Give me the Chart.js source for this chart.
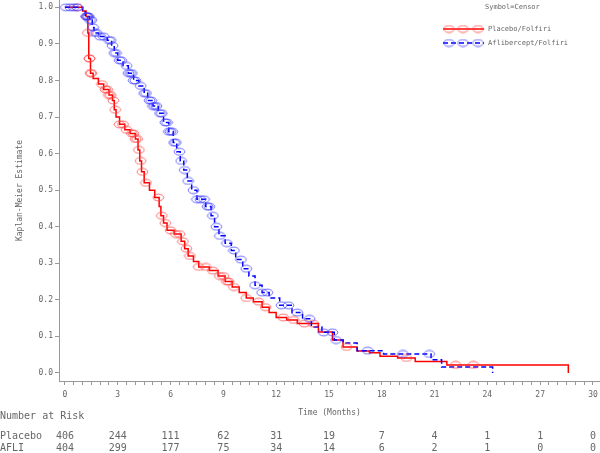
<!DOCTYPE html>
<html>
<head>
<meta charset="utf-8">
<script src="https://cdn.jsdelivr.net/npm/chart.js@4.4.0/dist/chart.umd.min.js"></script>
<style>
html, body { margin: 0; padding: 0; background: #fff; }
</style>
</head>
<body>
<canvas id="km" width="600" height="453"></canvas>
<script>
// Placebo/Folfiri : event times (months) and survival estimate after each step
var placeboT = [0, 1.0, 1.2, 1.3, 1.35, 1.45, 1.6, 1.9, 2.2, 2.5, 2.7, 2.8, 2.9, 3.1, 3.4, 3.7, 4.0, 4.15, 4.25, 4.35,
    4.5, 4.8, 5.1, 5.35, 5.45, 5.6, 5.8, 6.2, 6.6, 6.8, 7.0, 7.3, 7.6, 8.2, 8.7, 9.1, 9.5, 9.9, 10.3, 10.7,
    11.2, 11.6, 12.0, 12.6, 13.2, 14.4, 15.2, 15.8, 16.6, 17.3, 17.9, 18.9, 19.9, 21.7, 28.6];
var placeboS = [1.0, 0.99, 0.975, 0.93, 0.86, 0.82, 0.805, 0.79, 0.775, 0.76, 0.745, 0.72, 0.70, 0.68, 0.665, 0.655, 0.64, 0.61, 0.58, 0.55,
    0.52, 0.50, 0.48, 0.455, 0.43, 0.41, 0.39, 0.38, 0.36, 0.34, 0.32, 0.305, 0.29, 0.28, 0.265, 0.25, 0.235, 0.22, 0.205, 0.195,
    0.18, 0.165, 0.152, 0.145, 0.135, 0.112, 0.09, 0.071, 0.06, 0.055, 0.046, 0.041, 0.031, 0.022, 0.0];
// censored times
var placeboCens = [0.7, 1.25, 1.3, 1.38, 1.4, 1.45, 1.5, 2.1, 2.3, 2.4, 2.5, 2.6, 2.75, 2.85, 3.1, 3.3, 3.5, 3.8, 3.9, 4.0,
    4.1, 4.2, 4.3, 4.4, 4.6, 5.3, 5.5, 5.7, 6.0, 6.3, 6.5, 6.7, 6.9, 7.1, 7.6, 8.0, 8.4, 8.8, 9.0, 9.2,
    9.3, 9.6, 10.3, 11.0, 11.4, 12.4, 13.0, 13.6, 14.1, 16.0, 19.4, 22.2, 23.2];

// Aflibercept/Folfiri
var afliT = [0, 1.0, 1.15, 1.4, 1.55, 1.65, 1.9, 2.4, 2.65, 2.8, 3.0, 3.3, 3.6, 3.9, 4.2, 4.5, 4.7, 5.0, 5.3, 5.6,
    5.9, 6.15, 6.35, 6.55, 6.75, 6.95, 7.2, 7.5, 8.0, 8.3, 8.5, 8.75, 9.1, 9.45, 9.7, 10.1, 10.45, 10.8, 11.2, 11.6,
    12.2, 12.9, 13.5, 14.0, 14.6, 15.3, 15.8, 16.6, 18.1, 20.8, 21.4, 24.3];
var afliS = [1.0, 0.99, 0.975, 0.965, 0.945, 0.93, 0.92, 0.91, 0.895, 0.875, 0.855, 0.84, 0.82, 0.80, 0.785, 0.765, 0.745, 0.73, 0.71, 0.685,
    0.66, 0.63, 0.605, 0.58, 0.555, 0.525, 0.50, 0.475, 0.455, 0.43, 0.40, 0.375, 0.355, 0.335, 0.31, 0.285, 0.265, 0.24, 0.22, 0.205,
    0.185, 0.165, 0.148, 0.126, 0.111, 0.09, 0.082, 0.061, 0.052, 0.036, 0.016, 0.0];
var afliCens = [0.05, 0.3, 0.5, 0.7, 1.2, 1.25, 1.3, 1.35, 1.42, 1.5, 1.6, 1.7, 1.8, 2.0, 2.2, 2.5, 2.6, 2.7, 2.8, 2.9,
    3.1, 3.2, 3.5, 3.6, 3.7, 3.8, 3.9, 4.0, 4.3, 4.5, 4.6, 4.8, 4.9, 5.0, 5.1, 5.2, 5.4, 5.5, 5.7, 5.8,
    5.9, 6.0, 6.1, 6.2, 6.3, 6.5, 6.6, 6.8, 7.0, 7.3, 7.5, 7.7, 7.9, 8.1, 8.2, 8.4, 8.6, 8.8, 9.2, 9.6,
    10.0, 10.3, 10.8, 11.2, 11.5, 12.3, 12.7, 13.2, 13.9, 14.7, 15.2, 15.4, 17.2, 19.2, 20.7];

var xTicks = [0, 3, 6, 9, 12, 15, 18, 21, 24, 27, 30];
var yTicks = [0.0, 0.1, 0.2, 0.3, 0.4, 0.5, 0.6, 0.7, 0.8, 0.9, 1.0];

// number at risk
var riskTimes = [0, 3, 6, 9, 12, 15, 18, 21, 24, 27, 30];
var riskPlacebo = [406, 244, 111, 62, 31, 19, 7, 4, 1, 1, 0];
var riskAfli = [404, 299, 177, 75, 34, 14, 6, 2, 1, 0, 0];

var FONT = '"DejaVu Sans Mono", "Liberation Mono", monospace';
var TXT = '#666';

function curve(T, S) {
    var pts = [];
    for (var i = 0; i < T.length; i++) pts.push({ x: T[i], y: S[i] });
    return pts;
}
// a censor mark sits on the curve at its time
function censPoints(cens, T, S) {
    var pts = [];
    for (var c = 0; c < cens.length; c++) {
        var v = S[0];
        for (var i = 0; i < T.length; i++) { if (T[i] <= cens[c]) v = S[i]; }
        pts.push({ x: cens[c], y: v });
    }
    return pts;
}
function ellipseMark(color) {
    var cv = document.createElement('canvas');
    cv.width = 13; cv.height = 9;
    var c = cv.getContext('2d');
    c.strokeStyle = color;
    c.lineWidth = 1;
    c.beginPath();
    c.ellipse(6.5, 4.5, 5.3, 3.4, 0, 0, Math.PI * 2);
    c.stroke();
    return cv;
}
var redMark = ellipseMark('rgba(255,60,60,0.75)');
var blueMark = ellipseMark('rgba(60,60,255,0.75)');

var extras = {
    id: 'extras',
    afterDraw: function (chart) {
        var ctx = chart.ctx;
        var xs = chart.scales.x;
        ctx.save();
        ctx.fillStyle = TXT;
        ctx.textBaseline = 'middle';
        // legend
        ctx.font = '7px ' + FONT;
        ctx.textAlign = 'left';
        ctx.fillText('Symbol=Censor', 485, 7);
        ctx.fillText('Placebo/Folfiri', 488, 29);
        ctx.fillText('Aflibercept/Folfiri', 488, 43);
        ctx.lineWidth = 1.5;
        ctx.strokeStyle = '#ff0000';
        ctx.beginPath(); ctx.moveTo(443, 29); ctx.lineTo(484, 29); ctx.stroke();
        ctx.strokeStyle = '#0000ff';
        ctx.setLineDash([5, 3]);
        ctx.beginPath(); ctx.moveTo(443, 43); ctx.lineTo(484, 43); ctx.stroke();
        ctx.setLineDash([]);
        [449, 463, 478].forEach(function (mx) {
            ctx.drawImage(redMark, mx - 6.5, 29 - 4.5);
            ctx.drawImage(blueMark, mx - 6.5, 43 - 4.5);
        });
        // number at risk table
        ctx.font = '10px ' + FONT;
        ctx.fillText('Number at Risk', 0, 416);
        ctx.fillText('Placebo', 0, 436);
        ctx.fillText('AFLI', 0, 448);
        ctx.textAlign = 'center';
        for (var i = 0; i < riskTimes.length; i++) {
            var px = xs.getPixelForValue(riskTimes[i]);
            ctx.fillText(String(riskPlacebo[i]), px, 436);
            ctx.fillText(String(riskAfli[i]), px, 448);
        }
        ctx.restore();
    }
};

var ctx = document.getElementById('km');
var chart = new Chart(ctx, {
    type: 'line',
    data: {
        datasets: [{
            label: 'Placebo/Folfiri',
            data: curve(placeboT, placeboS),
            borderColor: '#ff0000',
            borderWidth: 1.5,
            stepped: true,
            pointRadius: 0,
            fill: false,
            order: 4
        }, {
            label: 'Aflibercept/Folfiri',
            data: curve(afliT, afliS),
            borderColor: '#0000ff',
            borderWidth: 1.5,
            borderDash: [5, 3],
            stepped: true,
            pointRadius: 0,
            fill: false,
            order: 3
        }, {
            label: 'Placebo censored',
            data: censPoints(placeboCens, placeboT, placeboS),
            showLine: false,
            pointStyle: redMark,
            pointRadius: 6,
            order: 2
        }, {
            label: 'Aflibercept censored',
            data: censPoints(afliCens, afliT, afliS),
            showLine: false,
            pointStyle: blueMark,
            pointRadius: 6,
            order: 1
        }]
    },
    options: {
        responsive: false,
        animation: false,
        devicePixelRatio: 1,
        layout: { padding: 0, autoPadding: false },
        plugins: { legend: { display: false }, tooltip: { enabled: false } },
        scales: {
            x: {
                type: 'linear',
                min: -0.34,
                max: 30.4,
                afterBuildTicks: function (s) {
                    var t = [];
                    for (var k = 0; k <= 60; k++) t.push({ value: k * 0.5 });
                    s.ticks = t;
                },
                afterFit: function (s) { s.height = 72; s.paddingLeft = 0; s.paddingRight = 0; },
                ticks: {
                    autoSkip: false,
                    maxRotation: 0,
                    padding: 5,
                    color: TXT,
                    font: { family: FONT, size: 8 },
                    callback: function (v) { return xTicks.indexOf(v) >= 0 ? String(v) : ''; }
                },
                grid: { drawOnChartArea: false, tickLength: 4, color: '#999' },
                border: { color: '#999', width: 1 },
                title: {
                    display: true,
                    text: 'Time (Months)',
                    color: TXT,
                    font: { family: FONT, size: 8 },
                    padding: { top: 0, bottom: 35 }
                }
            },
            y: {
                min: -0.022,
                max: 1.02,
                afterBuildTicks: function (s) {
                    s.ticks = yTicks.map(function (v) { return { value: v }; });
                },
                afterFit: function (s) { s.width = 59; s.paddingTop = 0; s.paddingBottom = 0; },
                ticks: {
                    padding: 2,
                    color: TXT,
                    font: { family: FONT, size: 8 },
                    callback: function (v) { return v.toFixed(1); }
                },
                grid: { drawOnChartArea: false, tickLength: 4, color: '#999' },
                border: { color: '#999', width: 1 },
                title: {
                    display: true,
                    text: 'Kaplan-Meier Estimate',
                    color: TXT,
                    font: { family: FONT, size: 8 },
                    padding: { top: 15, bottom: 0 }
                }
            }
        }
    },
    plugins: [extras]
});
</script>
</body>
</html>
